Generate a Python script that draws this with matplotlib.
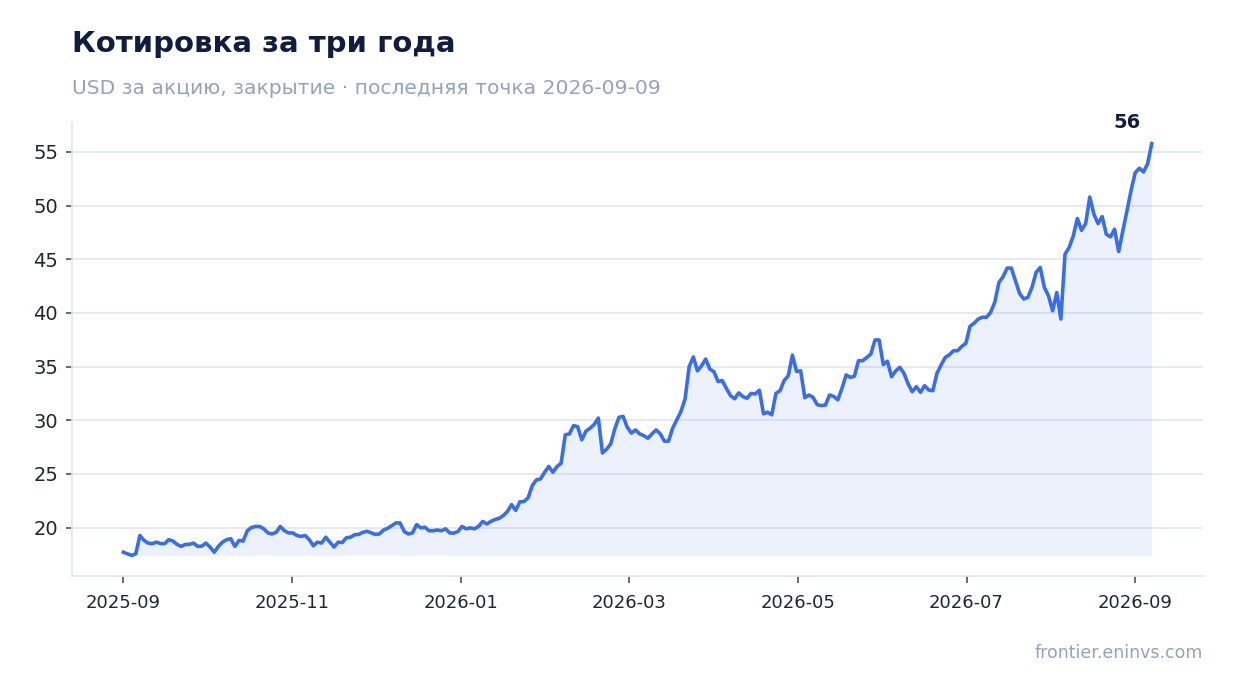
import matplotlib
matplotlib.use("Agg")
import matplotlib.pyplot as plt
import matplotlib.dates as mdates
import pandas as pd

title = "Котировка за три года"
subtitle = "USD за акцию, закрытие · последняя точка 2026-09-09"
source = "frontier.eninvs.com"

start_date = "2025-09-01"
end_date = "2026-09-09"
last_tick = "2026-09-03"   # ticks are evenly spaced, not on month starts
n_ticks = 7

# closing prices (250 points, evenly spaced)
prices = [
    17.7, 17.55, 17.4, 17.55, 19.26, 18.8, 18.55, 18.5, 18.64, 18.5,
    18.5, 18.87, 18.74, 18.43, 18.24, 18.43, 18.43, 18.55, 18.24, 18.27,
    18.55, 18.18, 17.7, 18.24, 18.64, 18.87, 18.96, 18.24, 18.8, 18.74,
    19.7, 20.0, 20.1, 20.1, 19.88, 19.5, 19.4, 19.56, 20.1, 19.7,
    19.5, 19.5, 19.26, 19.17, 19.26, 18.87, 18.3, 18.64, 18.55, 19.1,
    18.64, 18.18, 18.64, 18.6, 19.05, 19.1, 19.33, 19.36, 19.56, 19.65,
    19.5, 19.36, 19.4, 19.77, 19.93, 20.18, 20.43, 20.43, 19.63, 19.4,
    19.5, 20.28, 19.97, 20.03, 19.7, 19.7, 19.77, 19.7, 19.88, 19.5,
    19.48, 19.63, 20.1, 19.88,
    19.97, 19.88, 20.1, 20.57, 20.33, 20.57, 20.75, 20.86, 21.12, 21.5,
    22.14, 21.6, 22.4, 22.42, 22.77, 23.9, 24.44, 24.53, 25.15, 25.7,
    25.15, 25.68, 26.0, 28.64, 28.73, 29.5, 29.4, 28.17, 28.98, 29.26,
    29.6, 30.2, 26.95, 27.3, 27.8, 29.2, 30.27, 30.36, 29.35, 28.8,
    29.1, 28.73, 28.57, 28.32, 28.73, 29.1, 28.73, 28.05, 28.05, 29.26,
    30.03, 30.8, 31.98, 35.0, 35.9, 34.6, 35.07, 35.7, 34.77, 34.52,
    33.6, 33.7, 32.97, 32.3, 32.0, 32.55, 32.2, 32.05, 32.5, 32.45,
    32.8, 30.6, 30.75, 30.5, 32.5, 32.75, 33.7, 34.15, 36.07, 34.55,
    34.6, 32.1,
    32.35, 32.13, 31.45, 31.36, 31.42, 32.35, 32.22, 31.9, 32.97, 34.22,
    34.0, 34.1, 35.55, 35.55, 35.85, 36.18, 37.48, 37.48, 35.18, 35.5,
    34.06, 34.6, 34.93, 34.38, 33.4, 32.66, 33.13, 32.6, 33.22, 32.82,
    32.75, 34.38, 35.15, 35.85, 36.1, 36.48, 36.48, 36.88, 37.17, 38.76,
    39.04, 39.43, 39.6, 39.6, 40.06, 41.0, 42.84, 43.37, 44.18, 44.18,
    43.0, 41.82, 41.3, 41.45, 42.38, 43.77, 44.24, 42.38, 41.6, 40.2,
    41.9, 39.43, 45.47, 46.1, 47.18, 48.8, 47.7, 48.33, 50.8, 49.2,
    48.33, 48.98, 47.34, 47.09, 47.8, 45.72, 47.65, 49.5, 51.43, 53.07,
    53.48, 53.14, 53.9, 55.78,
]

dates = pd.date_range(start_date, end_date, periods=len(prices))
tick_dates = pd.date_range(start_date, last_tick, periods=n_ticks)

line_color = "#3a6ee8"
grid_color = "#e2e8f0"
text_dark = "#0f1d40"
text_gray = "#94a3b8"
tick_color = "#1e2533"

fig = plt.figure(figsize=(12.34, 6.93), dpi=100)
ax = fig.add_axes([0.0583, 0.1688, 0.9167, 0.6537])

ax.plot(dates, prices, color=line_color, lw=2.6, solid_joinstyle="round", zorder=3)
ax.fill_between(dates, prices, min(prices), color=line_color, alpha=0.09, lw=0, zorder=2)

ax.set_yticks(range(20, 56, 5))
ax.yaxis.grid(True, color=grid_color, lw=1.2, zorder=0)
ax.set_axisbelow(True)

ax.set_xticks(tick_dates)
ax.xaxis.set_major_formatter(mdates.DateFormatter("%Y-%m"))

for s in ["top", "right"]:
    ax.spines[s].set_visible(False)
for s in ["left", "bottom"]:
    ax.spines[s].set_color(grid_color)
    ax.spines[s].set_linewidth(1.2)

ax.tick_params(axis="y", labelsize=14, colors=tick_color, length=4, width=1.2, pad=6)
ax.tick_params(axis="x", labelsize=13, colors=tick_color, length=5, width=1.2, pad=8)
ax.tick_params(axis="both", color="#475569")

ax.annotate(f"{prices[-1]:.0f}", (dates[-1], prices[-1]), xytext=(-18, 15),
            textcoords="offset points", ha="center", va="center",
            fontsize=14, fontweight="bold", color=text_dark)

fig.text(72 / 1234, 1 - 52 / 693, title, fontsize=21, fontweight="bold",
         color=text_dark, ha="left", va="baseline")
fig.text(72 / 1234, 1 - 94 / 693, subtitle, fontsize=14.6, color=text_gray,
         ha="left", va="baseline")
fig.text(1203 / 1234, 1 - 658 / 693, source, fontsize=12.5, color=text_gray,
         ha="right", va="baseline")

fig.savefig("out.png", dpi=100)
